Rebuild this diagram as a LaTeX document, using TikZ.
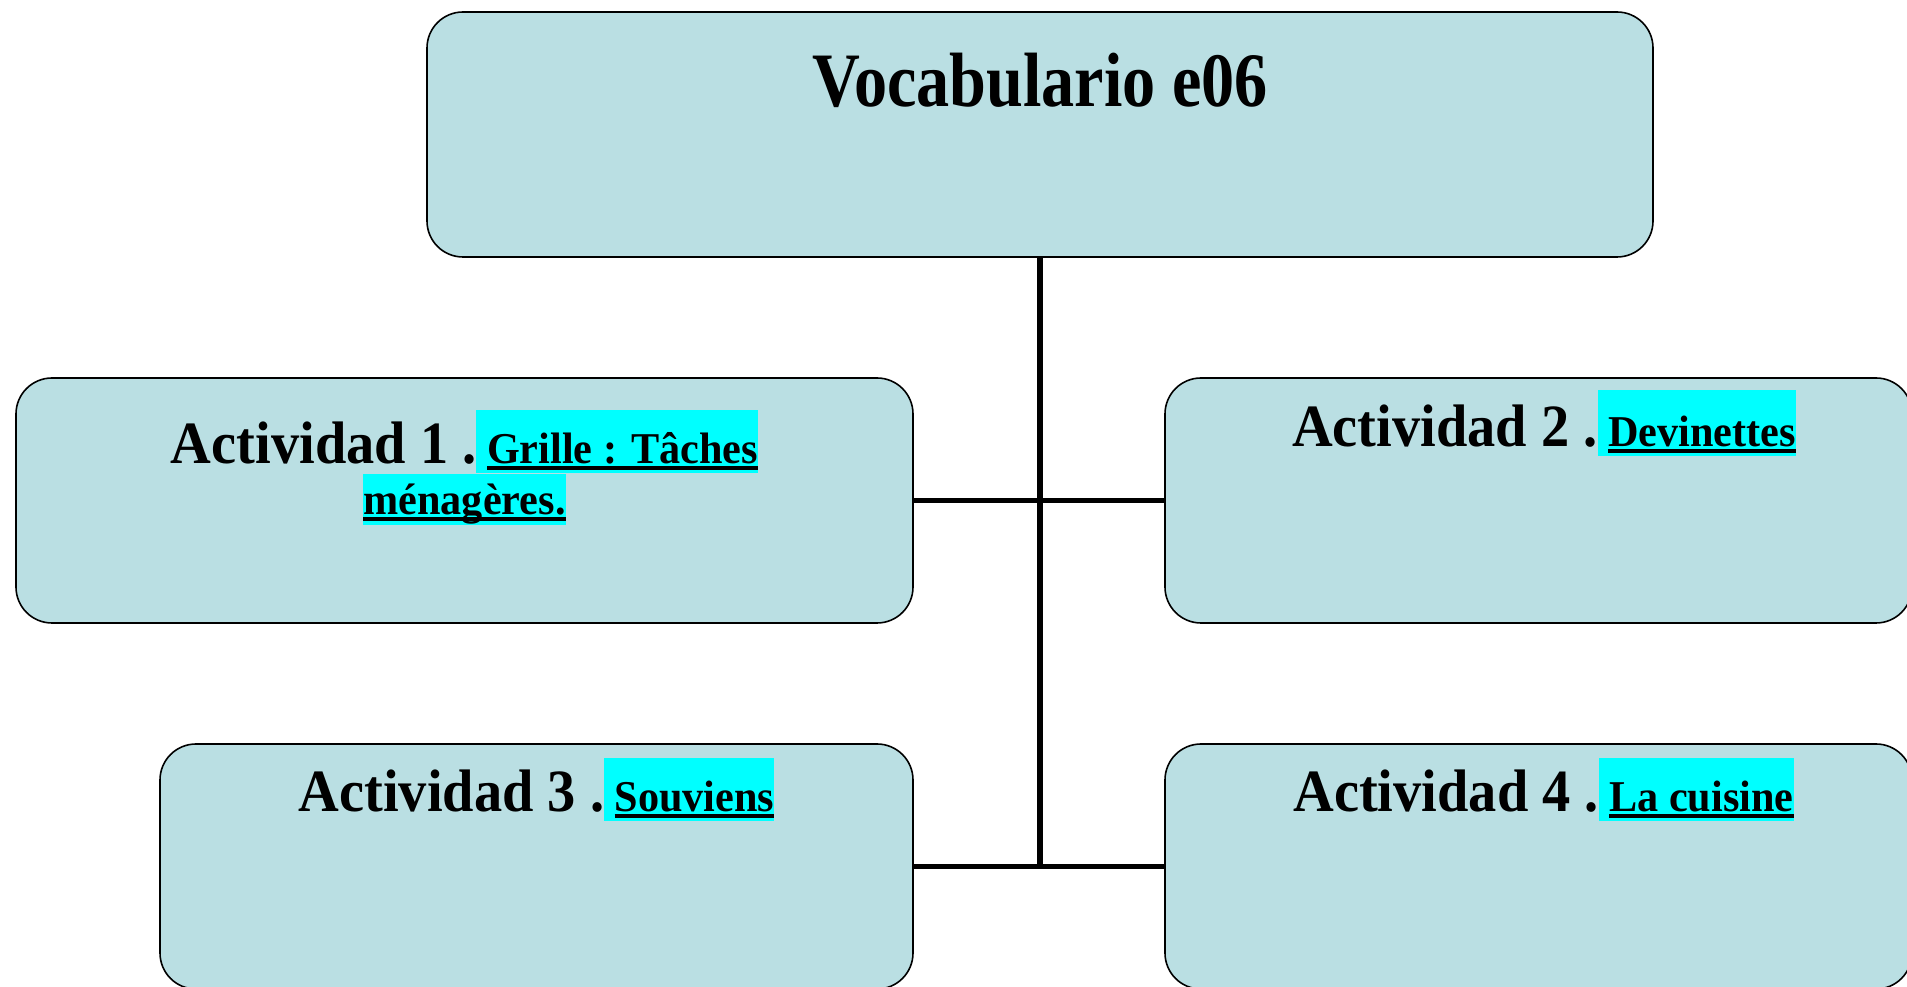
\documentclass[tikz,border=0pt]{standalone}
\usepackage{fontspec}
\setmainfont{Liberation Serif}[FakeStretch=0.94]
\newfontfamily\fuentetitulo{Liberation Serif}[FakeStretch=0.86]
\newfontfamily\fuentelien{Liberation Serif}[FakeStretch=0.96]
\definecolor{cajaazul}{RGB}{186,223,227}
\definecolor{resalte}{RGB}{0,255,255}
\newsavebox{\subbox}
\newcommand{\subr}[1]{\sbox{\subbox}{#1}\rlap{\rule[-3.2pt]{\wd\subbox}{2.2pt}}\usebox{\subbox}}
\newcommand{\lien}[2][31.5pt]{{\setlength{\fboxsep}{0pt}\colorbox{resalte}{\rule[-4.5pt]{0pt}{#1}\fuentelien\fontsize{22}{22}\selectfont#2}}}
\begin{document}
\begin{tikzpicture}[x=0.5pt, y=0.5pt,
caja/.style={rectangle, rounded corners=18pt, draw=black, fill=cajaazul, line width=0.8pt, minimum height=122.5pt},
titulo/.style={font=\fuentetitulo\fontsize{38.5}{46}\selectfont\bfseries, anchor=base},
actividad/.style={font=\fontsize{30}{25.5}\selectfont\bfseries, anchor=base, align=center, inner sep=0pt},
rama/.style={line width=2.6pt},
]
\useasboundingbox (0,0) rectangle (1907,986);
\node[caja, minimum width=613pt] (voc) at (1040,851.5) {};
\node[caja, minimum width=448.5pt] (act1) at (464.5,485.5) {};
\node[caja, minimum width=373.5pt] (act2) at (1538.5,485.5) {};
\node[caja, minimum width=376.5pt] (act3) at (536.5,119.5) {};
\node[caja, minimum width=373.5pt] (act4) at (1538.5,119.5) {};

\draw[rama] (voc.south) -- (voc.south |- act3.east);
\draw[rama] (act1.east) -- (act2.west);
\draw[rama] (act3.east) -- (act4.west);

\node[titulo] (tit) at ([yshift=-47.5pt]voc.north) {Vocabulario e06};
\node[actividad] (txt1) at ([yshift=-68.8pt]act1.north)
	{Actividad 1 .\lien{\ \subr{Grille : Tâches}}\\\lien[25pt]{\subr{ménagères.}}};
\node[actividad] (txt2) at ([xshift=2.7pt, yshift=-34.8pt]act2.north)
	{Actividad 2 .\lien[32.8pt]{\ \subr{Devinettes}}};
\node[actividad] (txt3) at ([yshift=-34.2pt]act3.north)
	{Actividad 3 .\lien{\ \subr{Souviens}}};
\node[actividad] (txt4) at ([xshift=2.5pt, yshift=-34.2pt]act4.north)
	{Actividad 4 .\lien{\ \subr{La cuisine}}};
\end{tikzpicture}
\end{document}
